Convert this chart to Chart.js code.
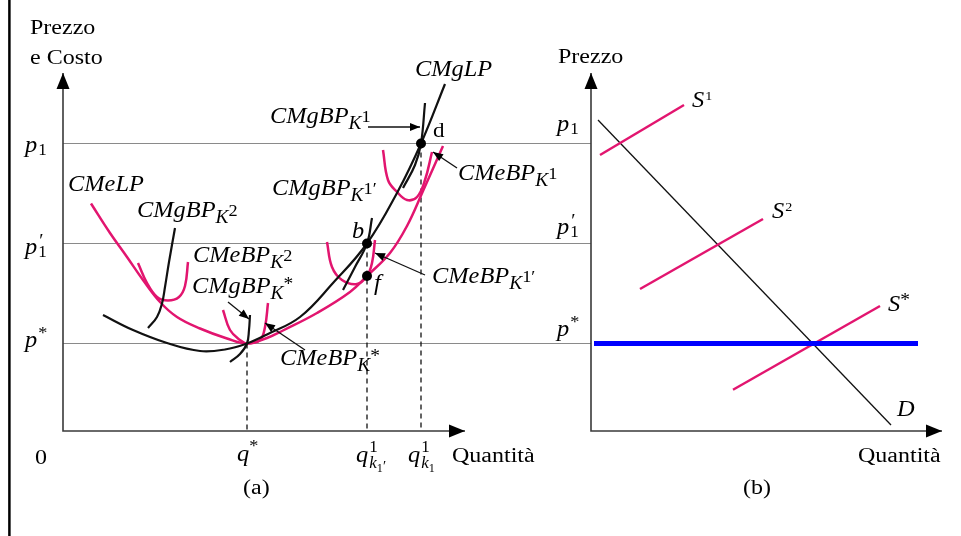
<!DOCTYPE html>
<html>
<head>
  <meta charset="utf-8">
  <title>Costi di lungo periodo e offerta</title>
  <script src="https://cdn.jsdelivr.net/npm/chart.js@4.4.1/dist/chart.umd.min.js"></script>
  <style>
    html, body { margin: 0; padding: 0; background: #fff; }
  </style>
</head>
<body>
  <canvas id="myChart" width="961" height="536"></canvas>
  <script>
    // price levels shared by both panels
    const P_STAR = 3.5;
    const P1_PRIME = 7.5;
    const P1 = 11.5;
    // quantities marked on panel (a)
    const Q_STAR = 46;
    const Q_K1_PRIME = 76;
    const Q_K1 = 89.5;
    // panel (b) sits to the right on the same quantity axis
    const B_ORIGIN = 132;
    // axis lengths
    const P_TOP = 14.32;
    const Q_END_A = 100.5;
    const Q_END_B = 87.75;

    // panel (a) curves, [quantity, cost]
    const cmeLP = [[7,9.1],[11.75,7.92],[16,6.96],[20,6.04],[24.25,5.16],[28.5,4.56],[34.25,4.1],[41,3.7],[46,3.5],[51,3.72],[55,4.02],[63.5,4.72],[71.75,5.56],[76,6.2],[81.75,7.12],[86,8.2],[90,9.6],[95,11.4]];
    const cmgLP = [[10,4.64],[17.5,4.04],[26,3.52],[34.25,3.2],[40.5,3.26],[46,3.5],[51,3.86],[59.25,4.56],[67.5,5.92],[76,7.5],[83.5,9.52],[89.5,11.5],[95.5,13.88]];
    const cmeK2 = [[18.75,6.72],[21,5.92],[23.5,5.36],[26.25,5.22],[29,5.36],[30.5,5.8],[31.25,6.76]];
    const cmgK2 = [[21.25,4.12],[23.5,4.56],[24.75,5.1],[25.5,5.76],[26.5,6.76],[28,8.12]];
    const cmeKStar = [[40,4.84],[41.75,4.04],[44.25,3.64],[46,3.5],[49.25,3.64],[50.5,4.16],[51.25,5.12]];
    const cmgKStar = [[41.75,2.76],[44.25,3.08],[46,3.5],[46.5,4.04],[46.75,4.64]];
    const cmeK1p = [[66,7.56],[67.25,6.56],[69.75,6.04],[73.5,5.88],[76,6.2],[77.25,6.72],[78,7.64]];
    const cmgK1p = [[70,5.64],[73,6.56],[76,7.5],[77.25,8.52]];
    const cmeK1 = [[80,11.24],[81.25,10.04],[83.5,9.56],[86,9.24],[88.5,9.36],[90.5,10.04],[92.25,11.16]];
    const cmgK1 = [[85,9.72],[88,10.64],[89.5,11.5],[90.5,13.12]];
    // marked points b, d, f
    const marked = [[Q_K1_PRIME,P1_PRIME],[Q_K1,P1],[Q_K1_PRIME,6.2]];

    // panel (b) lines, [quantity, price]
    const demand = [[1.75,12.44],[75,0.24]];
    const supply1 = [[2.25,11.04],[23.25,13.04]];
    const supply2 = [[12.25,5.68],[43,8.48]];
    const supplyStar = [[35.5,1.65],[72.25,5.0]];
    const priceStar = [[0.75,P_STAR],[81.75,P_STAR]];

    // pointer arrows from labels to curves, [from, to]
    const pointers = [
      [[76.25,12.16],[89.25,12.16]],
      [[98.5,10.52],[92.5,11.16]],
      [[90.5,6.24],[78,7.12]],
      [[41.25,5.16],[46.5,4.48]],
      [[60.5,3.24],[50.5,4.32]]
    ];

    const PINK = '#e2156f';
    const INK = '#111';
    const AXIS = '#3a3a3a';
    const GRID = '#8a8a8a';

    const pts = arr => arr.map(([x, y]) => ({x, y}));
    const ptsB = arr => arr.map(([x, y]) => ({x: x + B_ORIGIN, y}));

    function curve(data, color, width, extra) {
      return Object.assign({
        data, borderColor: color, backgroundColor: color, borderWidth: width,
        showLine: true, pointRadius: 0, tension: 0.4, fill: false
      }, extra || {});
    }

    // pushed bottom layer first; the list is reversed below because
    // Chart.js paints dataset 0 last
    const layers = [];
    // left frame rule
    layers.push(curve(pts([[-13.4,-4.2],[-13.4,17.24]]), '#000', 2.5, {tension: 0}));
    // price levels across both panels
    [P1, P1_PRIME, P_STAR].forEach(p => {
      layers.push(curve(pts([[0,p],[B_ORIGIN,p]]), GRID, 1.1, {tension: 0}));
    });
    // dashed drops to the quantity axis
    [[Q_STAR,P_STAR],[Q_K1_PRIME,P1_PRIME],[Q_K1,P1]].forEach(([q, p]) => {
      layers.push(curve(pts([[q,p],[q,0]]), INK, 1.3, {tension: 0, borderDash: [5,4]}));
    });
    // axes
    layers.push(curve(pts([[0,P_TOP],[0,0],[Q_END_A,0]]), AXIS, 1.6, {tension: 0}));
    layers.push(curve(ptsB([[0,P_TOP],[0,0],[Q_END_B,0]]), AXIS, 1.6, {tension: 0}));
    // pink average cost curves
    [cmeLP, cmeK2, cmeKStar, cmeK1p, cmeK1].forEach(c => layers.push(curve(pts(c), PINK, 2.5)));
    // black marginal cost curves
    [cmgLP, cmgK2, cmgKStar, cmgK1p, cmgK1].forEach(c => layers.push(curve(pts(c), INK, 2.2)));
    // panel (b)
    layers.push(curve(ptsB(demand), INK, 1.3, {tension: 0}));
    [supply1, supply2, supplyStar].forEach(s => layers.push(curve(ptsB(s), PINK, 2.5, {tension: 0})));
    layers.push(curve(ptsB(priceStar), '#0000ff', 5, {tension: 0}));
    // pointer shafts
    pointers.forEach(pp => layers.push(curve(pts(pp), INK, 1.3, {tension: 0})));
    // dots
    layers.push({data: pts(marked), pointRadius: 5, pointBackgroundColor: '#000', pointBorderColor: '#000', pointBorderWidth: 0, showLine: false});
    const datasets = layers.slice().reverse();

    // text helpers
    const R = t => ({t});
    const I = t => ({t, i: true});
    const kSub = {t: 'K', i: true, s: 0.8, dy: 6};
    const sup = t => ({t, s: 0.75, dy: -1});
    const star = {t: '*', s: 0.8, dy: -3};
    const qLabel = prime => {
      const s = [I('q'), {t: '1', s: 0.7, dy: -10, dx: 1, adv: false}, {t: 'k', i: true, s: 0.7, dy: 6, dx: 1}, {t: '1', s: 0.5, dy: 10}];
      if (prime) s.push({t: '′', s: 0.6, dy: 9});
      return s;
    };
    const UP = {size: 20, sx: 1.2};

    const labels = [
      {at: [-8.25,15.88], segs: [R('Prezzo')], f: UP},
      {at: [-8.25,14.68], segs: [R('e Costo')], f: UP},
      {at: [-9.5,11.16], segs: [I('p'), {t: '1', s: 0.7, dy: 3, dx: 1}]},
      {at: [-9.5,7.08], segs: [I('p'), {t: '′', s: 0.8, dy: -7, dx: 2, adv: false}, {t: '1', s: 0.7, dy: 3, dx: 1}]},
      {at: [-9.5,3.36], segs: [I('p'), {t: '*', s: 0.75, dy: -9, dx: 1}]},
      {at: [-7,-1.32], segs: [R('0')], f: UP},
      {at: [43.5,-1.2], segs: [I('q'), {t: '*', s: 0.75, dy: -10}]},
      {at: [73.25,-1.24], segs: qLabel(true)},
      {at: [86.25,-1.24], segs: qLabel(false)},
      {at: [97.25,-1.24], segs: [R('Quantità')], f: UP},
      {at: [45,-2.52], segs: [R('(a)')], f: UP},
      {at: [1.25,9.6], segs: [I('CMeLP')]},
      {at: [18.5,8.56], segs: [I('CMgBP'), kSub, sup('2')]},
      {at: [32.5,6.76], segs: [I('CMeBP'), kSub, sup('2')]},
      {at: [32.25,5.52], segs: [I('CMgBP'), kSub, star]},
      {at: [54.25,2.64], segs: [I('CMeBP'), kSub, star]},
      {at: [52.25,9.44], segs: [I('CMgBP'), kSub, sup('1′')]},
      {at: [72.25,7.72], segs: [I('b')]},
      {at: [77.75,5.64], segs: [I('f')]},
      {at: [92.25,5.92], segs: [I('CMeBP'), kSub, sup('1′')]},
      {at: [92.5,11.76], segs: [R('d')], f: {size: 22, sx: 1.05}},
      {at: [51.75,12.32], segs: [I('CMgBP'), kSub, sup('1')]},
      {at: [98.75,10.04], segs: [I('CMeBP'), kSub, sup('1')]},
      {at: [88,14.2], segs: [I('CMgLP')]},
      // panel (b)
      {at: [B_ORIGIN - 8.25,14.72], segs: [R('Prezzo')], f: UP},
      {at: [B_ORIGIN - 8.5,12.0], segs: [I('p'), {t: '1', s: 0.7, dy: 3, dx: 1}]},
      {at: [B_ORIGIN - 8.5,7.88], segs: [I('p'), {t: '′', s: 0.8, dy: -7, dx: 2, adv: false}, {t: '1', s: 0.7, dy: 3, dx: 1}]},
      {at: [B_ORIGIN - 8.5,3.8], segs: [I('p'), {t: '*', s: 0.75, dy: -9, dx: 1}]},
      {at: [B_ORIGIN + 25.25,12.96], segs: [I('S'), {t: '1', s: 0.58, dy: -7, dx: 1}]},
      {at: [B_ORIGIN + 45.25,8.52], segs: [I('S'), {t: '2', s: 0.58, dy: -7, dx: 1}]},
      {at: [B_ORIGIN + 74.25,4.8], segs: [I('S'), {t: '*', s: 0.8, dy: -5}]},
      {at: [B_ORIGIN + 76.5,0.6], segs: [I('D')]},
      {at: [B_ORIGIN + 66.75,-1.24], segs: [R('Quantità')], f: UP},
      {at: [B_ORIGIN + 38,-2.52], segs: [R('(b)')], f: UP}
    ];

    function head(ctx, x1, y1, x2, y2, len, half) {
      const a = Math.atan2(y2 - y1, x2 - x1);
      const c = Math.cos(a), s = Math.sin(a);
      ctx.beginPath();
      ctx.moveTo(x2, y2);
      ctx.lineTo(x2 - len * c + half * s, y2 - len * s - half * c);
      ctx.lineTo(x2 - len * c - half * s, y2 - len * s + half * c);
      ctx.closePath();
      ctx.fill();
    }

    function drawRich(ctx, x, y, segs, f) {
      const size = f.size, sx = f.sx;
      let cx = 0;
      ctx.save();
      ctx.translate(x, y);
      ctx.scale(sx, 1);
      ctx.textBaseline = 'alphabetic';
      segs.forEach(sg => {
        const sz = size * (sg.s || 1);
        ctx.font = (sg.i ? 'italic ' : '') + sz + 'px "Liberation Serif"';
        const dx = sg.dx || 0;
        ctx.fillText(sg.t, cx + dx, sg.dy || 0);
        if (sg.adv !== false) cx += dx + ctx.measureText(sg.t).width;
      });
      ctx.restore();
    }

    const decorations = {
      id: 'decorations',
      afterDatasetsDraw(chart) {
        const ctx = chart.ctx;
        const xs = chart.scales.x, ys = chart.scales.y;
        const X = v => xs.getPixelForValue(v), Y = v => ys.getPixelForValue(v);
        ctx.save();
        // axis arrowheads
        ctx.fillStyle = '#000';
        [0, B_ORIGIN].forEach(o => head(ctx, X(o), Y(0), X(o), Y(P_TOP), 16, 6.5));
        head(ctx, X(0), Y(0), X(Q_END_A), Y(0), 16, 6.5);
        head(ctx, X(B_ORIGIN), Y(0), X(B_ORIGIN + Q_END_B), Y(0), 16, 6.5);
        // pointer arrowheads
        pointers.forEach(([a, b]) => head(ctx, X(a[0]), Y(a[1]), X(b[0]), Y(b[1]), 10, 4));
        // labels
        labels.forEach(l => drawRich(ctx, X(l.at[0]), Y(l.at[1]), l.segs, l.f || {size: 23, sx: 1.06}));
        ctx.restore();
      }
    };

    new Chart(document.getElementById('myChart').getContext('2d'), {
      type: 'scatter',
      data: { datasets },
      options: {
        responsive: false,
        animation: false,
        events: [],
        devicePixelRatio: 1,
        layout: { padding: 0, autoPadding: false },
        plugins: { legend: { display: false }, tooltip: { enabled: false } },
        scales: {
          x: { type: 'linear', display: false, min: -15.75, max: 224.5 },
          y: { type: 'linear', display: false, min: -4.2, max: 17.24 }
        }
      },
      plugins: [decorations]
    });
  </script>
</body>
</html>
